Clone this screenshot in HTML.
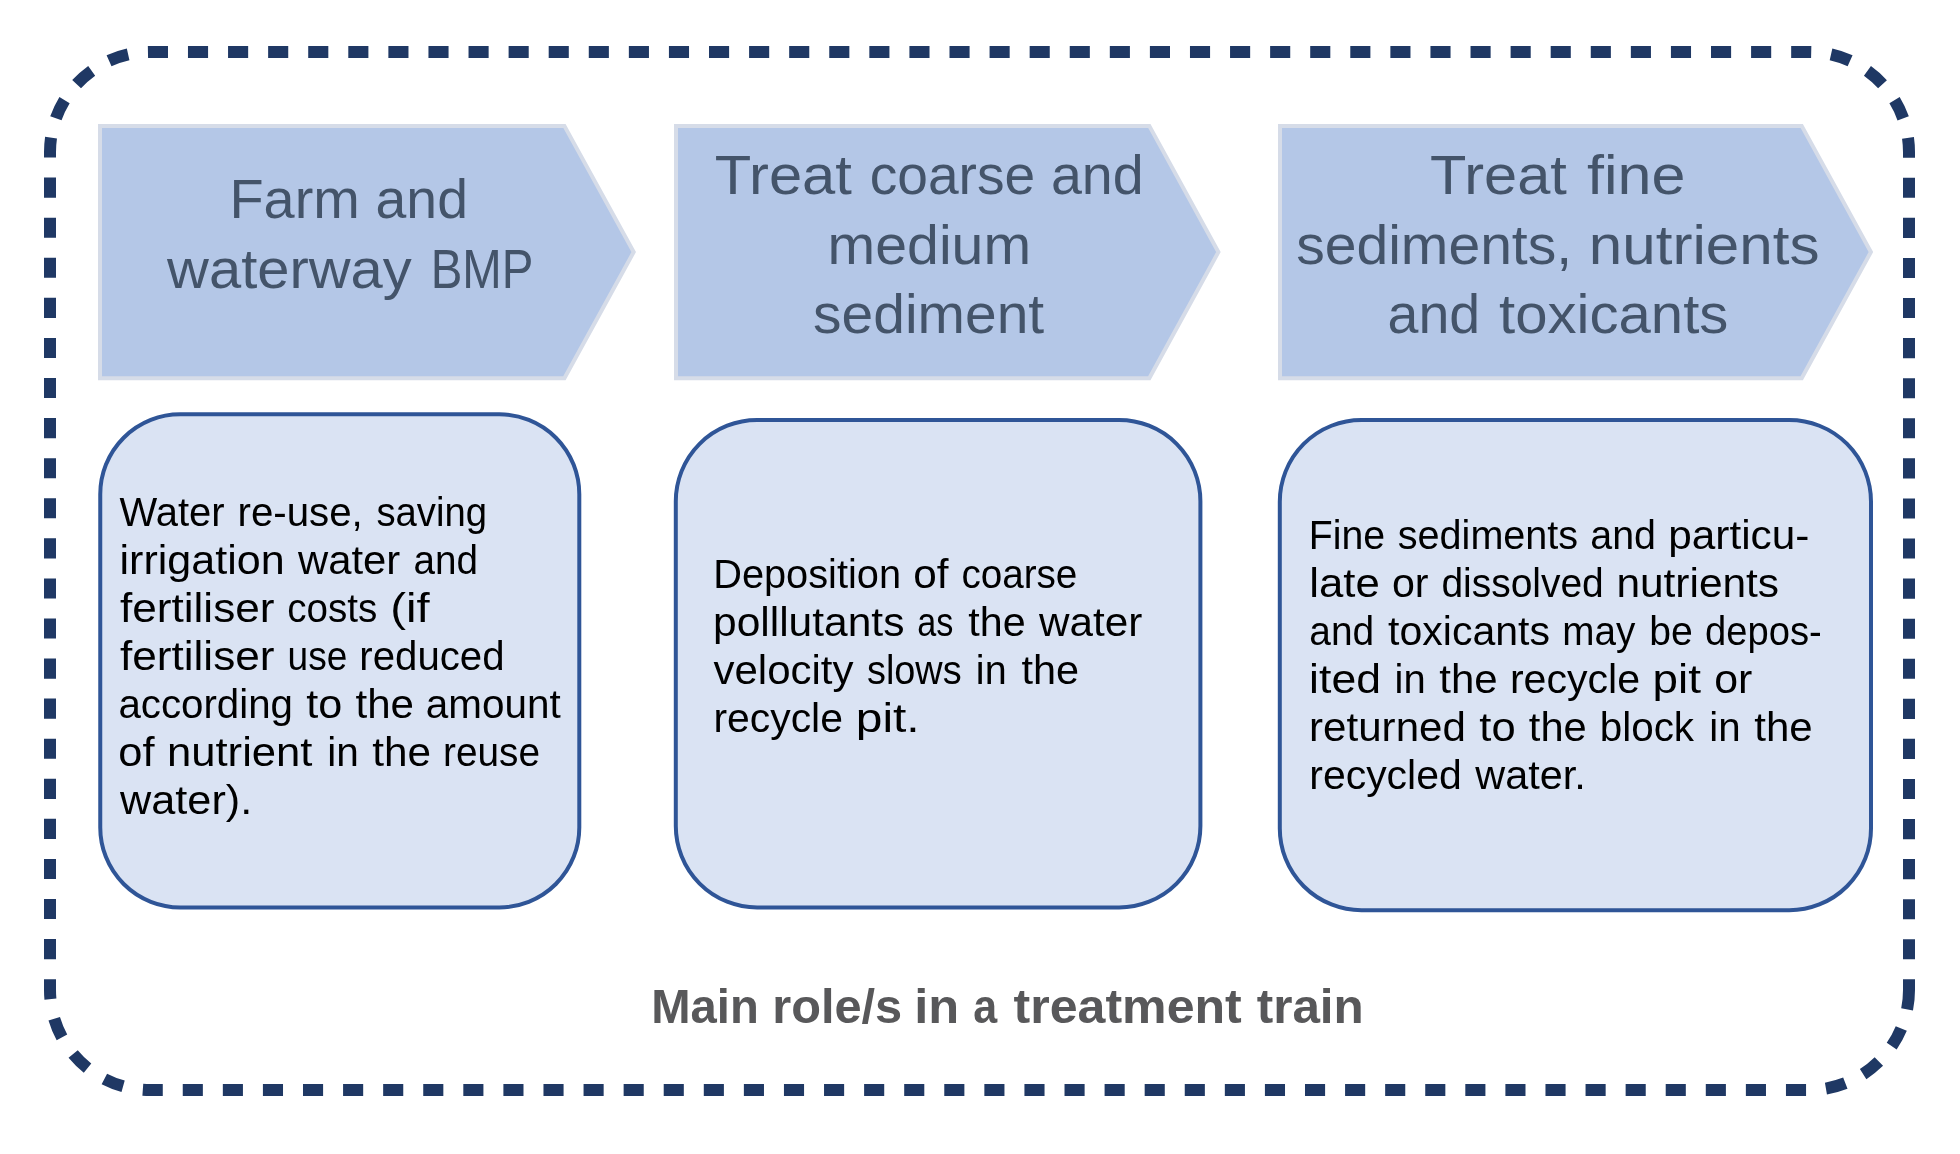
<!DOCTYPE html>
<html lang="en"><head><meta charset="utf-8"><title>Main role/s in a treatment train</title>
<style>
html,body{margin:0;padding:0;background:#fff;}
body{width:1960px;height:1154px;overflow:hidden;font-family:"Liberation Sans",sans-serif;}
svg{display:block;}
text{font-family:"Liberation Sans",sans-serif;}
</style></head><body>
<svg width="1960" height="1154" viewBox="0 0 1960 1154">
<rect width="1960" height="1154" fill="#ffffff"/>
<path d="M1909,990 A100,100 0 0 1 1809,1090 L150,1090 A100,100 0 0 1 50,990 L50,152 A100,100 0 0 1 150,52 L1809,52 A100,100 0 0 1 1909,152 Z" fill="none" stroke="#1F3864" stroke-width="12" stroke-dasharray="20.1 19.98" stroke-dashoffset="0.55"/>
<polygon points="100,125.9 564.4,125.9 633.7,252.05 564.4,378.2 100,378.2" fill="#B4C7E7" stroke="#D6DCE8" stroke-width="4" stroke-linejoin="miter"/>
<polygon points="676,125.9 1149.3,125.9 1218.4,252.05 1149.3,378.2 676,378.2" fill="#B4C7E7" stroke="#D6DCE8" stroke-width="4" stroke-linejoin="miter"/>
<polygon points="1280,125.9 1801.7,125.9 1870.9,252.05 1801.7,378.2 1280,378.2" fill="#B4C7E7" stroke="#D6DCE8" stroke-width="4" stroke-linejoin="miter"/>
<rect x="100.25" y="414.3" width="479.05" height="493.10" rx="80" ry="80" fill="#DAE3F3" stroke="#2F5597" stroke-width="4"/>
<rect x="675.8" y="420" width="524.60" height="487.40" rx="81.3" ry="81.3" fill="#DAE3F3" stroke="#2F5597" stroke-width="4"/>
<rect x="1279.8" y="420" width="591.20" height="490.20" rx="81.7" ry="81.7" fill="#DAE3F3" stroke="#2F5597" stroke-width="4"/>
<g style="will-change:transform">
<text id="t0" x="229.46" y="218" font-size="56" font-weight="normal" fill="#44546A" textLength="130.37" lengthAdjust="spacingAndGlyphs">Farm</text>
<text id="t1" x="375.57" y="218" font-size="56" font-weight="normal" fill="#44546A" textLength="92.35" lengthAdjust="spacingAndGlyphs">and</text>
<text id="t2" x="167.10" y="288" font-size="56" font-weight="normal" fill="#44546A" textLength="244.67" lengthAdjust="spacingAndGlyphs">waterway</text>
<text id="t3" x="430.63" y="288" font-size="56" font-weight="normal" fill="#44546A" textLength="102.61" lengthAdjust="spacingAndGlyphs">BMP</text>
<text id="t4" x="714.72" y="194" font-size="56" font-weight="normal" fill="#44546A" textLength="137.22" lengthAdjust="spacingAndGlyphs">Treat</text>
<text id="t5" x="869.73" y="194" font-size="56" font-weight="normal" fill="#44546A" textLength="165.50" lengthAdjust="spacingAndGlyphs">coarse</text>
<text id="t6" x="1050.92" y="194" font-size="56" font-weight="normal" fill="#44546A" textLength="92.73" lengthAdjust="spacingAndGlyphs">and</text>
<text id="t7" x="827.64" y="263.6" font-size="56" font-weight="normal" fill="#44546A" textLength="203.45" lengthAdjust="spacingAndGlyphs">medium</text>
<text id="t8" x="813.13" y="332.7" font-size="56" font-weight="normal" fill="#44546A" textLength="231.03" lengthAdjust="spacingAndGlyphs">sediment</text>
<text id="t9" x="1430.06" y="194" font-size="56" font-weight="normal" fill="#44546A" textLength="136.84" lengthAdjust="spacingAndGlyphs">Treat</text>
<text id="t10" x="1587.10" y="194" font-size="56" font-weight="normal" fill="#44546A" textLength="98.42" lengthAdjust="spacingAndGlyphs">fine</text>
<text id="t11" x="1296.16" y="264" font-size="56" font-weight="normal" fill="#44546A" textLength="275.97" lengthAdjust="spacingAndGlyphs">sediments,</text>
<text id="t12" x="1588.86" y="264" font-size="56" font-weight="normal" fill="#44546A" textLength="230.60" lengthAdjust="spacingAndGlyphs">nutrients</text>
<text id="t13" x="1387.54" y="333.3" font-size="56" font-weight="normal" fill="#44546A" textLength="92.62" lengthAdjust="spacingAndGlyphs">and</text>
<text id="t14" x="1499.06" y="333.3" font-size="56" font-weight="normal" fill="#44546A" textLength="229.30" lengthAdjust="spacingAndGlyphs">toxicants</text>
<text id="t15" x="119.47" y="526.0" font-size="40" font-weight="normal" fill="#000" textLength="105.14" lengthAdjust="spacingAndGlyphs">Water</text>
<text id="t16" x="237.53" y="526.0" font-size="40" font-weight="normal" fill="#000" textLength="125.26" lengthAdjust="spacingAndGlyphs">re-use,</text>
<text id="t17" x="376.43" y="526.0" font-size="40" font-weight="normal" fill="#000" textLength="110.55" lengthAdjust="spacingAndGlyphs">saving</text>
<text id="t18" x="119.52" y="574.02" font-size="40" font-weight="normal" fill="#000" textLength="165.08" lengthAdjust="spacingAndGlyphs">irrigation</text>
<text id="t19" x="297.96" y="574.02" font-size="40" font-weight="normal" fill="#000" textLength="102.20" lengthAdjust="spacingAndGlyphs">water</text>
<text id="t20" x="413.49" y="574.02" font-size="40" font-weight="normal" fill="#000" textLength="64.45" lengthAdjust="spacingAndGlyphs">and</text>
<text id="t21" x="119.95" y="622.04" font-size="40" font-weight="normal" fill="#000" textLength="154.58" lengthAdjust="spacingAndGlyphs">fertiliser</text>
<text id="t22" x="287.22" y="622.04" font-size="40" font-weight="normal" fill="#000" textLength="89.97" lengthAdjust="spacingAndGlyphs">costs</text>
<text id="t23" x="390.35" y="622.04" font-size="40" font-weight="normal" fill="#000" textLength="39.39" lengthAdjust="spacingAndGlyphs">(if</text>
<text id="t24" x="119.95" y="670.06" font-size="40" font-weight="normal" fill="#000" textLength="154.58" lengthAdjust="spacingAndGlyphs">fertiliser</text>
<text id="t25" x="287.58" y="670.06" font-size="40" font-weight="normal" fill="#000" textLength="59.80" lengthAdjust="spacingAndGlyphs">use</text>
<text id="t26" x="359.34" y="670.06" font-size="40" font-weight="normal" fill="#000" textLength="145.17" lengthAdjust="spacingAndGlyphs">reduced</text>
<text id="t27" x="118.46" y="718.08" font-size="40" font-weight="normal" fill="#000" textLength="174.48" lengthAdjust="spacingAndGlyphs">according</text>
<text id="t28" x="306.18" y="718.08" font-size="40" font-weight="normal" fill="#000" textLength="36.01" lengthAdjust="spacingAndGlyphs">to</text>
<text id="t29" x="355.52" y="718.08" font-size="40" font-weight="normal" fill="#000" textLength="58.47" lengthAdjust="spacingAndGlyphs">the</text>
<text id="t30" x="425.81" y="718.08" font-size="40" font-weight="normal" fill="#000" textLength="134.89" lengthAdjust="spacingAndGlyphs">amount</text>
<text id="t31" x="118.30" y="766.1" font-size="40" font-weight="normal" fill="#000" textLength="36.18" lengthAdjust="spacingAndGlyphs">of</text>
<text id="t32" x="166.96" y="766.1" font-size="40" font-weight="normal" fill="#000" textLength="145.55" lengthAdjust="spacingAndGlyphs">nutrient</text>
<text id="t33" x="327.37" y="766.1" font-size="40" font-weight="normal" fill="#000" textLength="31.58" lengthAdjust="spacingAndGlyphs">in</text>
<text id="t34" x="372.36" y="766.1" font-size="40" font-weight="normal" fill="#000" textLength="58.78" lengthAdjust="spacingAndGlyphs">the</text>
<text id="t35" x="443.12" y="766.1" font-size="40" font-weight="normal" fill="#000" textLength="96.88" lengthAdjust="spacingAndGlyphs">reuse</text>
<text id="t36" x="120.07" y="814.12" font-size="40" font-weight="normal" fill="#000" textLength="132.15" lengthAdjust="spacingAndGlyphs">water).</text>
<text id="t37" x="713.22" y="587.6" font-size="40" font-weight="normal" fill="#000" textLength="187.79" lengthAdjust="spacingAndGlyphs">Deposition</text>
<text id="t38" x="913.31" y="587.6" font-size="40" font-weight="normal" fill="#000" textLength="35.24" lengthAdjust="spacingAndGlyphs">of</text>
<text id="t39" x="961.40" y="587.6" font-size="40" font-weight="normal" fill="#000" textLength="115.91" lengthAdjust="spacingAndGlyphs">coarse</text>
<text id="t40" x="713.01" y="635.7" font-size="40" font-weight="normal" fill="#000" textLength="191.39" lengthAdjust="spacingAndGlyphs">polllutants</text>
<text id="t41" x="917.16" y="635.7" font-size="40" font-weight="normal" fill="#000" textLength="36.11" lengthAdjust="spacingAndGlyphs">as</text>
<text id="t42" x="968.31" y="635.7" font-size="40" font-weight="normal" fill="#000" textLength="57.30" lengthAdjust="spacingAndGlyphs">the</text>
<text id="t43" x="1038.94" y="635.7" font-size="40" font-weight="normal" fill="#000" textLength="103.30" lengthAdjust="spacingAndGlyphs">water</text>
<text id="t44" x="713.49" y="683.8000000000001" font-size="40" font-weight="normal" fill="#000" textLength="139.97" lengthAdjust="spacingAndGlyphs">velocity</text>
<text id="t45" x="866.98" y="683.8000000000001" font-size="40" font-weight="normal" fill="#000" textLength="94.68" lengthAdjust="spacingAndGlyphs">slows</text>
<text id="t46" x="975.86" y="683.8000000000001" font-size="40" font-weight="normal" fill="#000" textLength="30.76" lengthAdjust="spacingAndGlyphs">in</text>
<text id="t47" x="1021.43" y="683.8000000000001" font-size="40" font-weight="normal" fill="#000" textLength="57.56" lengthAdjust="spacingAndGlyphs">the</text>
<text id="t48" x="713.42" y="731.9000000000001" font-size="40" font-weight="normal" fill="#000" textLength="129.48" lengthAdjust="spacingAndGlyphs">recycle</text>
<text id="t49" x="855.78" y="731.9000000000001" font-size="40" font-weight="normal" fill="#000" textLength="63.88" lengthAdjust="spacingAndGlyphs">pit.</text>
<text id="t50" x="1308.85" y="548.7" font-size="40" font-weight="normal" fill="#000" textLength="76.31" lengthAdjust="spacingAndGlyphs">Fine</text>
<text id="t51" x="1397.84" y="548.7" font-size="40" font-weight="normal" fill="#000" textLength="180.27" lengthAdjust="spacingAndGlyphs">sediments</text>
<text id="t52" x="1590.27" y="548.7" font-size="40" font-weight="normal" fill="#000" textLength="65.73" lengthAdjust="spacingAndGlyphs">and</text>
<text id="t53" x="1668.27" y="548.7" font-size="40" font-weight="normal" fill="#000" textLength="141.07" lengthAdjust="spacingAndGlyphs">particu-</text>
<text id="t54" x="1309.22" y="596.8000000000001" font-size="40" font-weight="normal" fill="#000" textLength="70.48" lengthAdjust="spacingAndGlyphs">late</text>
<text id="t55" x="1391.98" y="596.8000000000001" font-size="40" font-weight="normal" fill="#000" textLength="36.63" lengthAdjust="spacingAndGlyphs">or</text>
<text id="t56" x="1441.41" y="596.8000000000001" font-size="40" font-weight="normal" fill="#000" textLength="162.31" lengthAdjust="spacingAndGlyphs">dissolved</text>
<text id="t57" x="1616.42" y="596.8000000000001" font-size="40" font-weight="normal" fill="#000" textLength="162.68" lengthAdjust="spacingAndGlyphs">nutrients</text>
<text id="t58" x="1309.30" y="644.9000000000001" font-size="40" font-weight="normal" fill="#000" textLength="64.88" lengthAdjust="spacingAndGlyphs">and</text>
<text id="t59" x="1388.12" y="644.9000000000001" font-size="40" font-weight="normal" fill="#000" textLength="161.79" lengthAdjust="spacingAndGlyphs">toxicants</text>
<text id="t60" x="1562.37" y="644.9000000000001" font-size="40" font-weight="normal" fill="#000" textLength="73.06" lengthAdjust="spacingAndGlyphs">may</text>
<text id="t61" x="1649.19" y="644.9000000000001" font-size="40" font-weight="normal" fill="#000" textLength="43.54" lengthAdjust="spacingAndGlyphs">be</text>
<text id="t62" x="1705.03" y="644.9000000000001" font-size="40" font-weight="normal" fill="#000" textLength="116.66" lengthAdjust="spacingAndGlyphs">depos-</text>
<text id="t63" x="1309.14" y="693.0" font-size="40" font-weight="normal" fill="#000" textLength="71.79" lengthAdjust="spacingAndGlyphs">ited</text>
<text id="t64" x="1394.50" y="693.0" font-size="40" font-weight="normal" fill="#000" textLength="31.12" lengthAdjust="spacingAndGlyphs">in</text>
<text id="t65" x="1439.38" y="693.0" font-size="40" font-weight="normal" fill="#000" textLength="58.34" lengthAdjust="spacingAndGlyphs">the</text>
<text id="t66" x="1509.94" y="693.0" font-size="40" font-weight="normal" fill="#000" textLength="130.03" lengthAdjust="spacingAndGlyphs">recycle</text>
<text id="t67" x="1652.51" y="693.0" font-size="40" font-weight="normal" fill="#000" textLength="48.35" lengthAdjust="spacingAndGlyphs">pit</text>
<text id="t68" x="1714.24" y="693.0" font-size="40" font-weight="normal" fill="#000" textLength="38.10" lengthAdjust="spacingAndGlyphs">or</text>
<text id="t69" x="1309.10" y="741.1" font-size="40" font-weight="normal" fill="#000" textLength="156.76" lengthAdjust="spacingAndGlyphs">returned</text>
<text id="t70" x="1479.32" y="741.1" font-size="40" font-weight="normal" fill="#000" textLength="36.29" lengthAdjust="spacingAndGlyphs">to</text>
<text id="t71" x="1528.87" y="741.1" font-size="40" font-weight="normal" fill="#000" textLength="57.91" lengthAdjust="spacingAndGlyphs">the</text>
<text id="t72" x="1599.76" y="741.1" font-size="40" font-weight="normal" fill="#000" textLength="94.32" lengthAdjust="spacingAndGlyphs">block</text>
<text id="t73" x="1709.19" y="741.1" font-size="40" font-weight="normal" fill="#000" textLength="31.35" lengthAdjust="spacingAndGlyphs">in</text>
<text id="t74" x="1754.26" y="741.1" font-size="40" font-weight="normal" fill="#000" textLength="58.40" lengthAdjust="spacingAndGlyphs">the</text>
<text id="t75" x="1309.30" y="789.2" font-size="40" font-weight="normal" fill="#000" textLength="152.38" lengthAdjust="spacingAndGlyphs">recycled</text>
<text id="t76" x="1475.27" y="789.2" font-size="40" font-weight="normal" fill="#000" textLength="110.36" lengthAdjust="spacingAndGlyphs">water.</text>
<text id="t77" x="651.27" y="1022.8" font-size="48" font-weight="bold" fill="#58585A" textLength="107.52" lengthAdjust="spacingAndGlyphs">Main</text>
<text id="t78" x="772.19" y="1022.8" font-size="48" font-weight="bold" fill="#58585A" textLength="129.97" lengthAdjust="spacingAndGlyphs">role/s</text>
<text id="t79" x="914.22" y="1022.8" font-size="48" font-weight="bold" fill="#58585A" textLength="44.95" lengthAdjust="spacingAndGlyphs">in</text>
<text id="t80" x="973.27" y="1022.8" font-size="48" font-weight="bold" fill="#58585A" textLength="23.91" lengthAdjust="spacingAndGlyphs">a</text>
<text id="t81" x="1013.62" y="1022.8" font-size="48" font-weight="bold" fill="#58585A" textLength="228.11" lengthAdjust="spacingAndGlyphs">treatment</text>
<text id="t82" x="1256.71" y="1022.8" font-size="48" font-weight="bold" fill="#58585A" textLength="107.06" lengthAdjust="spacingAndGlyphs">train</text>
</g>
</svg>
</body></html>
